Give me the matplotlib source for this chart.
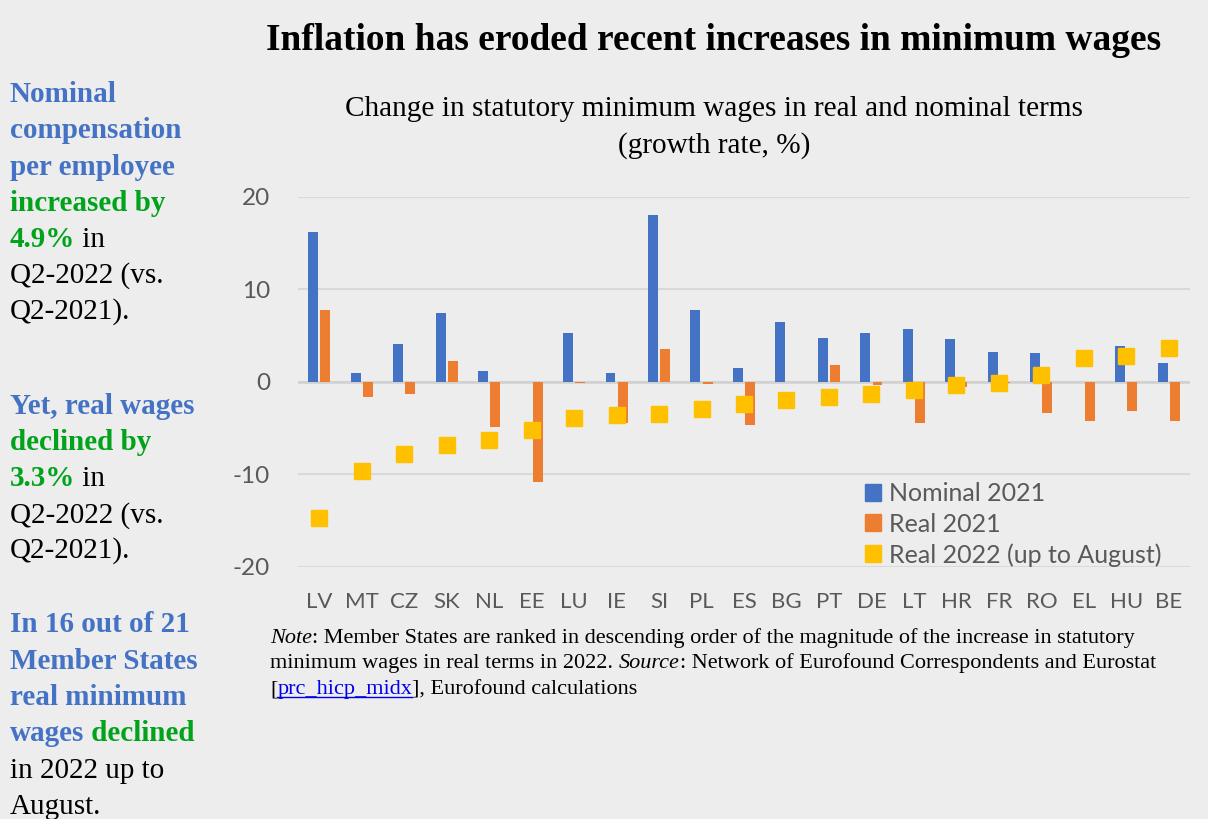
import numpy as np
import matplotlib
matplotlib.use('Agg')
import matplotlib.pyplot as plt
from matplotlib.patches import Patch

countries = ['LV', 'MT', 'CZ', 'SK', 'NL', 'EE', 'LU', 'IE', 'SI', 'PL', 'ES',
             'BG', 'PT', 'DE', 'LT', 'HR', 'FR', 'RO', 'EL', 'HU', 'BE']
nominal_2021 = [16.2, 0.9, 4.1, 7.4, 1.2, 0.0, 5.3, 0.9, 18.0, 7.7, 1.5,
                6.5, 4.7, 5.3, 5.7, 4.6, 3.2, 3.1, 0.0, 3.9, 2.0]
real_2021 = [7.7, -1.7, -1.3, 2.2, -4.9, -10.8, -0.1, -4.5, 3.5, -0.3, -4.7,
             0.0, 1.8, -0.4, -4.5, -0.6, -0.1, -3.4, -4.2, -3.2, -4.3]
real_2022 = [-14.7, -9.6, -7.8, -6.8, -6.3, -5.2, -3.9, -3.6, -3.5, -3.0, -2.4,
             -2.0, -1.6, -1.3, -0.9, -0.4, -0.1, 0.7, 2.6, 2.8, 3.6]
yticks = [-20, -10, 0, 10, 20]

BG = '#EDEDED'
BLUE = '#4472C4'
ORANGE = '#ED7D31'
YELLOW = '#FFC000'
GREEN = '#00A31A'
W, H = 1208, 819

fig = plt.figure(figsize=(W / 100, H / 100), dpi=100, facecolor=BG)


def fx(px):
    return px / W


def fy(py):
    return 1 - py / H


ax = fig.add_axes([fx(298), fy(566.7), (1190 - 298) / W, (566.7 - 196.7) / H])
ax.set_facecolor(BG)

x = np.arange(len(countries))
bw = 0.235
ax.bar(x - 0.143, nominal_2021, bw, color=BLUE, zorder=3)
ax.bar(x + 0.143, real_2021, bw, color=ORANGE, zorder=3)
ax.plot(x, real_2022, 's', color=YELLOW, markersize=11.5, zorder=4)

ax.set_xlim(-0.5, len(countries) - 0.5)
ax.set_ylim(-20, 20)
ax.set_yticks(yticks)
ax.set_yticklabels([str(v) for v in yticks])
ax.set_xticks(x)
ax.set_xticklabels(countries)
ax.grid(axis='y', color='#D9D9D9', linewidth=1.5, zorder=0)
ax.axhline(0, color='#D0D0D0', linewidth=1.8, zorder=2)
for s in ax.spines.values():
    s.set_visible(False)
ax.tick_params(axis='y', length=0, pad=20, labelsize=17.5, labelcolor='#595959')
ax.tick_params(axis='x', length=0, pad=18, labelsize=16, labelcolor='#595959')
for lab in ax.get_xticklabels() + ax.get_yticklabels():
    lab.set_fontfamily('Lato')

handles = [Patch(color=BLUE, label='Nominal 2021'),
           Patch(color=ORANGE, label='Real 2021'),
           Patch(color=YELLOW, label='Real 2022 (up to August)')]
leg = fig.legend(handles=handles, loc='upper left',
                 bbox_to_anchor=(fx(855), fy(472)), frameon=False,
                 prop={'family': 'Lato', 'size': 18}, labelcolor='#595959',
                 handlelength=0.65, handleheight=0.65, handletextpad=0.3,
                 labelspacing=0.3, borderaxespad=0)

serif = 'Liberation Serif'
fig.text(fx(714), fy(41), 'Inflation has eroded recent increases in minimum wages',
         ha='center', va='center', fontsize=26.9, fontweight='bold', family=serif)
fig.text(fx(714), fy(109), 'Change in statutory minimum wages in real and nominal terms',
         ha='center', va='center', fontsize=21.1, family=serif)
fig.text(fx(714), fy(146), '(growth rate, %)',
         ha='center', va='center', fontsize=21.1, family=serif)


def ann_after(prev, txt, col, wt, st, size):
    return fig.add_artist(plt.Annotation(txt, xy=(1, 0), xycoords=prev,
                                         color=col, fontweight=wt, fontstyle=st,
                                         fontsize=size, family=serif,
                                         ha='left', va='bottom'))


def line(px, py, segs, size):
    first = segs[0]
    t = fig.text(fx(px), fy(py), first[0], color=first[1], fontweight=first[2],
                 fontstyle=first[3], fontsize=size, family=serif,
                 ha='left', va='baseline')
    arts = [t]
    for txt, col, wt, st in segs[1:]:
        t = ann_after(t, txt, col, wt, st, size)
        arts.append(t)
    return arts


side = 21
b = 'bold'
n = 'normal'
side_lines = [
    (102, [('Nominal', BLUE, b, n)]),
    (138, [('compensation', BLUE, b, n)]),
    (175, [('per employee', BLUE, b, n)]),
    (211, [('increased by', GREEN, b, n)]),
    (247, [('4.9%', GREEN, b, n), (' in', 'black', n, n)]),
    (283, [('Q2-2022 (vs.', 'black', n, n)]),
    (319, [('Q2-2021).', 'black', n, n)]),
    (414, [('Yet, real wages', BLUE, b, n)]),
    (450, [('declined by', GREEN, b, n)]),
    (486, [('3.3%', GREEN, b, n), (' in', 'black', n, n)]),
    (523, [('Q2-2022 (vs.', 'black', n, n)]),
    (558, [('Q2-2021).', 'black', n, n)]),
    (632, [('In 16 out of 21', BLUE, b, n)]),
    (669, [('Member States', BLUE, b, n)]),
    (705, [('real minimum', BLUE, b, n)]),
    (741, [('wages', BLUE, b, n), (' declined', GREEN, b, n)]),
    (778, [('in 2022 up to', 'black', n, n)]),
    (814, [('August.', 'black', n, n)]),
]
for py, segs in side_lines:
    line(10, py, segs, side)

note = 16
line(270, 643, [('Note', 'black', n, 'italic'),
                (': Member States are ranked in descending order of the magnitude '
                 'of the increase in statutory', 'black', n, n)], note)
line(270, 668, [('minimum wages in real terms in 2022. ', 'black', n, n),
                ('Source', 'black', n, 'italic'),
                (': Network of Eurofound Correspondents and Eurostat', 'black', n, n)], note)
arts = line(270, 694, [('[', 'black', n, n), ('prc_hicp_midx', '#0000EE', n, n),
                       ('], Eurofound calculations', 'black', n, n)], note)

fig.canvas.draw()
r = fig.canvas.get_renderer()
bb = arts[1].get_window_extent(r)
uy = fy(697)
fig.add_artist(plt.Line2D([bb.x0 / W, bb.x1 / W], [uy, uy], color='#0000EE',
                          linewidth=1, transform=fig.transFigure))

fig.savefig('out.png', dpi=100, facecolor=BG)
